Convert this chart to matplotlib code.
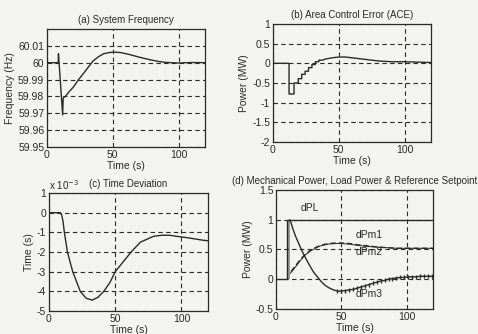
import matplotlib
matplotlib.use("Agg")
import matplotlib.pyplot as plt

# ---- data ----
# (a) system frequency (Hz)
t_freq = [0, 8.6, 8.7, 11.9, 12.3, 14, 17, 20, 24, 27.6, 31, 35, 39, 43, 47, 51, 56, 62, 70, 78, 85, 90, 95, 100, 105, 110, 115, 120]
freq = [60.0, 60.0, 60.0053, 59.969, 59.979, 59.980, 59.983, 59.9855, 59.990, 59.9935, 59.997, 60.001, 60.0035, 60.0053, 60.006, 60.0063, 60.006, 60.005, 60.0033, 60.0018, 60.0007, 60.0002, 60.0, 59.9998, 60.0, 60.0001, 60.0001, 60.0]

# (b) area control error (MW)
t_ace = [0, 12.2, 12.2, 16, 16, 19.2, 19.2, 21.8, 21.8, 24.4, 24.4, 27, 27, 29.6, 29.6, 32.2, 32.2, 34.8, 34.8, 37.4, 40, 45, 50, 55, 60, 70, 80, 90, 100, 110, 120]
ace = [0, 0, -0.78, -0.78, -0.5, -0.5, -0.39, -0.39, -0.28, -0.28, -0.2, -0.2, -0.11, -0.11, -0.03, -0.03, 0.04, 0.04, 0.08, 0.08, 0.11, 0.14, 0.16, 0.16, 0.14, 0.1, 0.06, 0.04, 0.04, 0.03, 0.02]

# (c) time deviation (x 1e-3 s)
t_dev = [0, 8.5, 9.5, 10.5, 11.6, 13.9, 17.9, 23.6, 28, 32.6, 37, 41.4, 46, 50, 56, 62, 69, 79, 85, 91, 96, 105, 116, 120]
dev = [0, 0, -0.1, -0.4, -1.0, -2.0, -3.0, -4.0, -4.35, -4.45, -4.3, -4.0, -3.55, -3.0, -2.5, -2.0, -1.5, -1.2, -1.15, -1.15, -1.2, -1.28, -1.4, -1.43]

# (d) mechanical power, load power & reference setpoint (MW)
t_pl = [0, 8.3, 8.3, 120]
dpl = [0, 0, 1, 1]
t_band = [8.3, 11.0]
t_pm1 = [11.5, 14, 18.5, 22, 26, 30, 34, 40, 46, 50, 56, 62, 70, 78, 85, 92, 100, 110, 120]
dpm1 = [0.13, 0.2, 0.33, 0.41, 0.48, 0.53, 0.57, 0.6, 0.61, 0.61, 0.6, 0.58, 0.56, 0.54, 0.53, 0.52, 0.52, 0.52, 0.52]
t_pm2 = [11.0, 14, 18.5, 22, 26, 30, 34, 40, 46, 50, 56, 62, 70, 78, 85, 92, 100, 110, 120]
dpm2 = [0.1, 0.18, 0.31, 0.4, 0.47, 0.52, 0.56, 0.59, 0.6, 0.6, 0.59, 0.57, 0.55, 0.54, 0.53, 0.52, 0.52, 0.52, 0.52]
t_pm3 = [10.5, 11.5, 13, 15, 17, 20, 23, 26, 29, 32, 35, 38, 41, 44, 47, 50, 53, 56, 59, 62, 65, 68, 71, 74, 77, 80, 83, 86, 89, 92, 95, 98, 101, 104, 107, 110, 113, 116, 119]
dpm3 = [1.0, 0.95, 0.84, 0.72, 0.62, 0.47, 0.34, 0.22, 0.11, 0.03, -0.05, -0.11, -0.15, -0.18, -0.2, -0.2, -0.19, -0.18, -0.17, -0.15, -0.13, -0.11, -0.09, -0.07, -0.05, -0.03, -0.02, 0.0, 0.01, 0.02, 0.03, 0.03, 0.04, 0.04, 0.04, 0.05, 0.05, 0.05, 0.05]

xticks = [0, 50, 100]
yt_a = [59.95, 59.96, 59.97, 59.98, 59.99, 60.0, 60.01]
yl_a = ["59.95", "59.96", "59.97", "59.98", "59.99", "60", "60.01"]
yt_b = [-2, -1.5, -1, -0.5, 0, 0.5, 1]
yl_b = ["-2", "-1.5", "-1", "-0.5", "0", "0.5", "1"]
yt_c = [-5, -4, -3, -2, -1, 0, 1]
yl_c = ["-5", "-4", "-3", "-2", "-1", "0", "1"]
yt_d = [-0.5, 0, 0.5, 1, 1.5]
yl_d = ["-0.5", "0", "0.5", "1", "1.5"]

paper = "#f3f3ef"
ink = "#2a2a2a"
plt.rcParams["font.family"] = ["Liberation Sans", "DejaVu Sans"]
plt.rcParams["font.size"] = 7.5

fig = plt.figure(figsize=(4.78, 3.34), dpi=100, facecolor=paper)


def setup(ax, title, ylabel, yt, yl, ylim):
    ax.set_facecolor(paper)
    ax.set_xlim(0, 120)
    ax.set_ylim(*ylim)
    ax.set_xticks(xticks)
    ax.set_yticks(yt)
    ax.set_yticklabels(yl)
    ax.tick_params(direction="in", length=3, width=0.7, colors=ink, pad=2, labelsize=7.5)
    for s in ax.spines.values():
        s.set_linewidth(0.9)
        s.set_color(ink)
    ax.grid(True, color=ink, linestyle=(0, (4, 3)), linewidth=0.8)
    ax.set_title(title, fontsize=7, color=ink, pad=4)
    ax.set_xlabel("Time (s)", fontsize=7.5, color=ink, labelpad=1)
    ax.set_ylabel(ylabel, fontsize=7.5, color=ink, labelpad=2)


ax_a = fig.add_axes([0.0983, 0.5599, 0.3305, 0.3533])
setup(ax_a, "(a) System Frequency", "Frequency (Hz)", yt_a, yl_a, (59.95, 60.02))
ax_a.plot(t_freq, freq, color=ink, lw=1.0)

ax_b = fig.add_axes([0.5711, 0.5749, 0.3305, 0.3533])
setup(ax_b, "(b) Area Control Error (ACE)", "Power (MW)", yt_b, yl_b, (-2, 1))
ax_b.plot(t_ace, ace, color=ink, lw=1.0)

ax_c = fig.add_axes([0.1025, 0.0689, 0.3326, 0.3533])
setup(ax_c, "(c) Time Deviation", "Time (s)", yt_c, yl_c, (-5, 1))
ax_c.plot(t_dev, dev, color=ink, lw=1.0)
ax_c.text(0.0, 1.01, r"x 10$^{-3}$", transform=ax_c.transAxes, fontsize=7, color=ink,
          ha="left", va="bottom")

ax_d = fig.add_axes([0.5774, 0.0749, 0.3285, 0.3563])
setup(ax_d, "(d) Mechanical Power, Load Power & Reference Setpoint", "Power (MW)", yt_d, yl_d, (-0.5, 1.5))
ax_d.fill_between(t_band, 0, 1, color="#9a9a98", lw=0)
ax_d.plot(t_pl, dpl, color=ink, lw=1.0)
ax_d.plot(t_pm2, dpm2, color=ink, lw=0.7)
ax_d.plot(t_pm1, dpm1, color=ink, lw=1.0, linestyle=(0, (4, 2)))
ax_d.plot(t_pm3, dpm3, color=ink, lw=1.0, marker="|", markersize=3.5, markevery=slice(14, None, 1))
ax_d.text(19, 1.2, "dPL", fontsize=7.5, color=ink, va="center")
ax_d.text(61, 0.74, "dPm1", fontsize=7.5, color=ink, va="center")
ax_d.text(61, 0.45, "dPm2", fontsize=7.5, color=ink, va="center")
ax_d.text(61, -0.24, "dPm3", fontsize=7.5, color=ink, va="center")

fig.savefig("out.png", dpi=100, facecolor=paper)
